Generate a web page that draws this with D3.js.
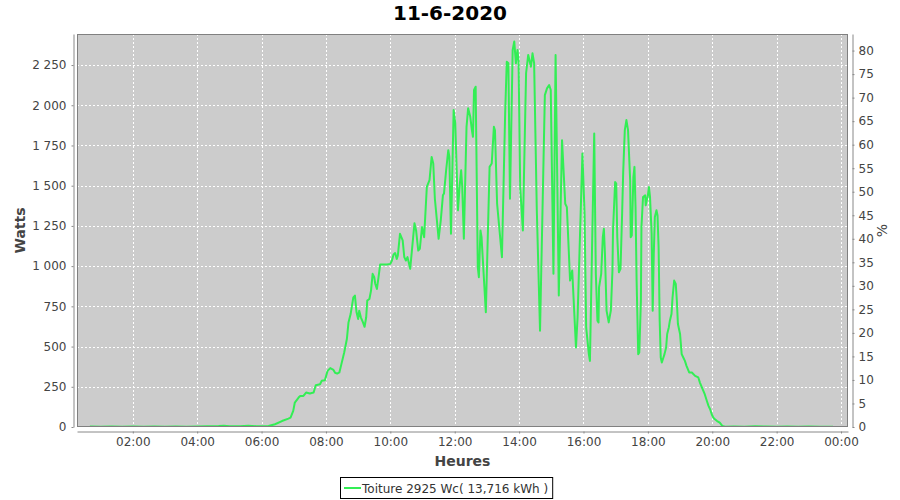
<!DOCTYPE html>
<html>
<head>
<meta charset="utf-8">
<script src="https://cdn.jsdelivr.net/npm/d3@7"></script>
<style>
  html, body { margin: 0; padding: 0; background: #ffffff; }
  svg { display: block; font-family: "DejaVu Sans", sans-serif; }
</style>
</head>
<body>
<svg id="chart" width="900" height="500"></svg>
<script>
// ---------- DATA ----------
const title = "11-6-2020";
const seriesName = "Toiture 2925 Wc( 13,716 kWh )";
const peakPower = 2925; // Wc, right axis = % of peak power
const times = [
  "00:40","01:00","01:20","01:40","02:00","02:20","02:40","03:00","03:20","03:40",
  "04:00","04:20","04:40","04:50","05:00","05:20","05:35","05:50","06:00","06:13",
  "06:25","06:38","06:50","06:54","06:59","07:02","07:09","07:12","07:18","07:23",
  "07:30","07:37","07:41","07:49","07:52","07:58","08:03","08:08","08:14","08:17",
  "08:21","08:25","08:28","08:34","08:39","08:42","08:46","08:51","08:54","08:57",
  "09:00","09:02","09:05","09:09","09:12","09:15","09:17","09:21","09:24","09:27",
  "09:30","09:32","09:35","09:38","09:41","09:47","09:54","10:00","10:03","10:06",
  "10:09","10:12","10:14","10:18","10:23","10:26","10:29","10:32","10:37","10:45",
  "10:48","10:52","10:55","10:59","11:03","11:08","11:13","11:17","11:20","11:23",
  "11:30","11:34","11:38","11:40","11:44","11:48","11:50","11:53","11:58","12:01",
  "12:06","12:09","12:12","12:14","12:17","12:22","12:25","12:29","12:32","12:34",
  "12:36","12:39","12:43","12:45","12:48","12:50","12:58","13:05","13:09","13:13",
  "13:15","13:19","13:28","13:34","13:37","13:40","13:43","13:48","13:51","13:54",
  "13:57","13:59","14:02","14:07","14:13","14:17","14:22","14:25","14:28","14:33",
  "14:39","14:48","14:52","14:56","14:59","15:04","15:08","15:14","15:20","15:26",
  "15:29","15:35","15:39","15:46","15:49","15:58","16:02","16:05","16:10","16:12",
  "16:20","16:23","16:26","16:28","16:29","16:33","16:36","16:38","16:40","16:43",
  "16:47","16:51","16:54","16:55","16:59","17:01","17:03","17:06","17:09","17:12",
  "17:14","17:17","17:20","17:23","17:27","17:28","17:30","17:33","17:35","17:37",
  "17:39","17:42","17:44","17:47","17:48","17:51","17:55","17:56","18:00","18:02",
  "18:04","18:07","18:09","18:11","18:13","18:16","18:18","18:20","18:22","18:24",
  "18:26","18:29","18:31","18:34","18:36","18:39","18:41","18:44","18:46","18:49",
  "18:52","18:54","18:56","19:00","19:03","19:06","19:09","19:12","19:17","19:22",
  "19:28","19:34","19:37","19:42","19:46","19:50","19:53","19:56","19:59","20:02",
  "20:05","20:09","20:14","20:19","20:24","20:40","21:00","21:20","21:40","22:00",
  "22:20","22:40","23:00","23:20","23:45"
];
const watts = [
  3,2,3,2,3,2,3,2,3,2,
  3,4,6,8,4,5,8,5,4,6,
  17,37,52,58,100,152,183,193,193,214,
  208,214,260,266,287,291,349,366,355,337,
  332,339,380,463,547,650,702,806,817,713,
  671,723,682,650,623,682,786,796,848,952,
  931,889,858,931,1010,1010,1010,1014,1035,1072,
  1081,1045,1066,1201,1160,1056,1035,1056,983,1267,
  1222,1097,1108,1243,1180,1492,1534,1679,1638,1419,
  1170,1284,1440,1451,1596,1721,1679,1201,1970,1887,
  1347,1492,1596,1492,1170,1866,1981,1928,1845,1804,
  2095,2115,993,931,1222,1180,713,1617,1638,1866,
  1845,1388,1056,1949,2271,2261,1419,2344,2396,2261,
  2344,2271,1492,1222,2199,2313,2240,2323,2261,1347,
  598,2063,2105,2126,2095,952,2313,817,1783,1388,
  1367,910,973,494,682,1700,1326,619,453,411,
  1825,952,661,650,868,952,1180,1232,1076,723,
  650,723,973,1222,1523,1513,1180,962,983,1326,
  1585,1845,1908,1845,1534,1180,1191,1554,1617,1367,
  910,453,463,785,1243,1430,1440,1378,1440,1492,
  1430,1201,723,1076,1305,1347,1315,1118,661,432,
  401,432,453,494,578,619,661,702,806,910,
  889,785,640,578,453,432,411,380,339,339,
  318,308,276,235,204,162,131,110,79,58,
  48,37,27,6,2,3,2,4,3,2,
  3,2,3,2,2
];
const wattTicks = [0,250,500,750,1000,1250,1500,1750,2000,2250];
const pctTicks = [0,5,10,15,20,25,30,35,40,45,50,55,60,65,70,75,80];
const xStart = "00:16", xEnd = "24:13"; // visible time window
const wattMax = 2443;
const yLabel = "Watts", y2Label = "%", xLabel = "Heures";

// ---------- LAYOUT ----------
const plot = { left: 77, top: 34, right: 848, bottom: 427 };
const lineColor = "#33ee55";
const textColor = "#444444";
const axisColor = "#888888";

const svg = d3.select("#chart");
const base = new Date(2020, 5, 11, 0, 0);
const toDate = s => { const [h, m] = s.split(":").map(Number); return new Date(base.getTime() + (h * 60 + m) * 60000); };

const data = times.map((t, i) => ({ t: toDate(t), w: watts[i] }));

const x = d3.scaleTime().domain([toDate(xStart), toDate(xEnd)]).range([plot.left, plot.right]);
const y = d3.scaleLinear().domain([0, wattMax]).range([plot.bottom, plot.top]);
const y2 = d3.scaleLinear().domain([0, wattMax / peakPower * 100]).range([plot.bottom, plot.top]);

const fr = d3.formatLocale({ decimal: ",", thousands: " ", grouping: [3], currency: ["", " €"] });
const fmtW = fr.format(",d");

// Plot background
svg.append("rect")
  .attr("x", plot.left).attr("y", plot.top)
  .attr("width", plot.right - plot.left).attr("height", plot.bottom - plot.top)
  .attr("fill", "#cccccc");

const xTicks = d3.timeHour.every(2).range(toDate("01:00"), toDate("24:01"));

// Gridlines
const grid = svg.append("g").attr("stroke", "#ffffff").attr("stroke-width", 1).attr("stroke-dasharray", "2,2");
grid.selectAll("line.h").data(wattTicks.filter(v => v > 0)).join("line")
  .attr("x1", plot.left).attr("x2", plot.right)
  .attr("y1", d => Math.round(y(d)) + 0.5).attr("y2", d => Math.round(y(d)) + 0.5);
grid.selectAll("line.v").data(xTicks).join("line")
  .attr("y1", plot.top).attr("y2", plot.bottom)
  .attr("x1", d => Math.round(x(d)) + 0.5).attr("x2", d => Math.round(x(d)) + 0.5);

// Clip + line
svg.append("clipPath").attr("id", "clip").append("rect")
  .attr("x", plot.left).attr("y", plot.top)
  .attr("width", plot.right - plot.left).attr("height", plot.bottom - plot.top);

const line = d3.line().x(d => x(d.t)).y(d => y(d.w));
svg.append("path").datum(data)
  .attr("clip-path", "url(#clip)")
  .attr("fill", "none").attr("stroke", lineColor).attr("stroke-width", 2)
  .attr("stroke-linejoin", "round")
  .attr("d", line);

// Plot outline
svg.append("rect")
  .attr("x", plot.left + 0.5).attr("y", plot.top + 0.5)
  .attr("width", plot.right - plot.left - 1).attr("height", plot.bottom - plot.top - 1)
  .attr("fill", "none").attr("stroke", "#808080").attr("stroke-width", 1);

function styleAxis(g) {
  g.select(".domain").attr("stroke", axisColor);
  g.selectAll(".tick line").attr("stroke", axisColor);
  g.selectAll(".tick text").attr("fill", textColor).style("font-size", "12px").style("font-family", "DejaVu Sans, sans-serif");
}

// Left axis
svg.append("g").attr("transform", "translate(73.5,0)")
  .call(d3.axisLeft(y).tickValues(wattTicks).tickFormat(fmtW).tickSize(2).tickSizeOuter(0).tickPadding(5))
  .call(styleAxis);

// Right axis
svg.append("g").attr("transform", "translate(852.5,0)")
  .call(d3.axisRight(y2).tickValues(pctTicks).tickFormat(d3.format("d")).tickSize(2).tickSizeOuter(0).tickPadding(4))
  .call(styleAxis);

// Bottom axis
svg.append("g").attr("transform", "translate(0,431.5)")
  .call(d3.axisBottom(x).tickValues(xTicks).tickFormat(d3.timeFormat("%H:%M")).tickSize(2).tickSizeOuter(0).tickPadding(4))
  .call(styleAxis);

// Title
svg.append("text").attr("x", 450).attr("y", 20).attr("text-anchor", "middle")
  .attr("font-weight", "bold").attr("font-size", 20).attr("fill", "#000")
  .text(title);

// Axis labels
svg.append("text").attr("transform", "translate(25,230.5) rotate(-90)")
  .attr("text-anchor", "middle").attr("font-weight", "bold").attr("font-size", 14).attr("fill", textColor)
  .text(yLabel);
svg.append("text").attr("transform", "translate(887,230.5) rotate(-90)")
  .attr("text-anchor", "middle").attr("font-size", 14).attr("fill", textColor)
  .text(y2Label);
svg.append("text").attr("x", (plot.left + plot.right) / 2).attr("y", 466)
  .attr("text-anchor", "middle").attr("font-weight", "bold").attr("font-size", 14).attr("fill", textColor)
  .text(xLabel);

// Legend
const lg = svg.append("g");
const lgText = lg.append("text").attr("x", 362).attr("y", 492.5)
  .attr("font-size", 12).attr("fill", "#333333").text(seriesName);
const tw = lgText.node().getComputedTextLength();
lg.insert("rect", "text").attr("x", 340.5).attr("y", 477.5)
  .attr("width", 362 + tw + 4 - 340).attr("height", 21)
  .attr("fill", "#ffffff").attr("stroke", "#000000").attr("stroke-width", 1);
lg.append("line").attr("x1", 344).attr("x2", 361).attr("y1", 488).attr("y2", 488)
  .attr("stroke", lineColor).attr("stroke-width", 2);
</script>
</body>
</html>
